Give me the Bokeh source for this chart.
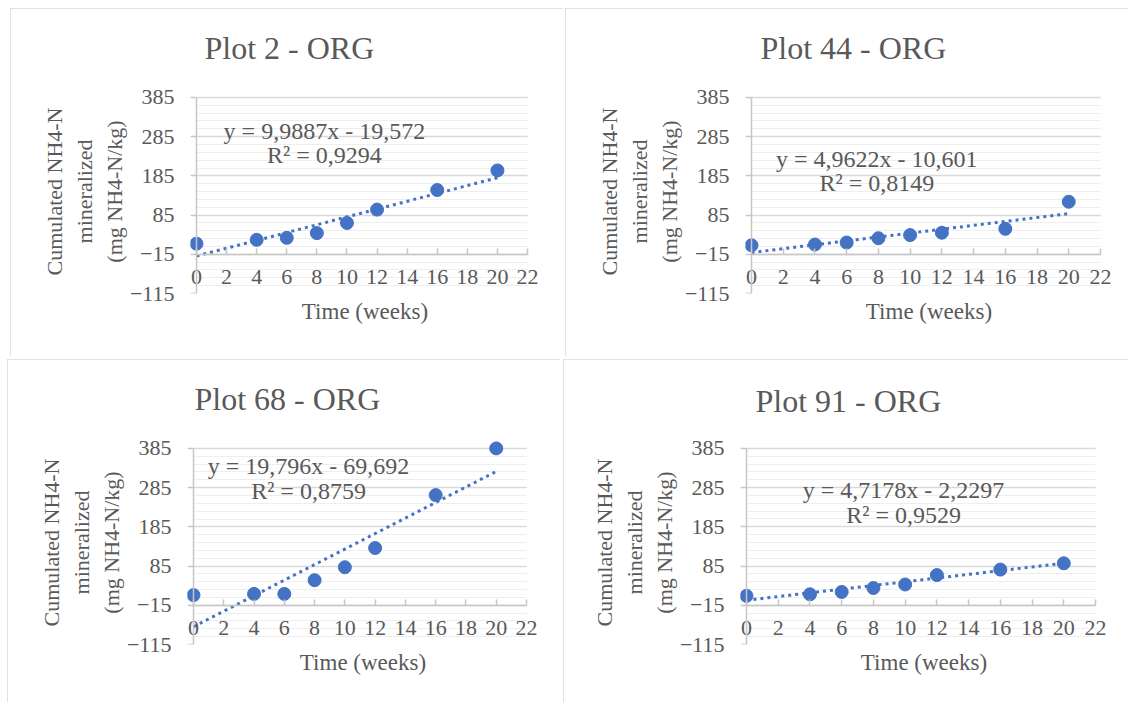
from bokeh.plotting import figure
from bokeh.models import FixedTicker, Label, Range1d, LinearAxis
from bokeh.layouts import column, row
from bokeh.embed import file_html
from bokeh.resources import INLINE

# ---- data ----
weeks = [0, 4, 6, 8, 10, 12, 16, 20]
plot2 = [12, 22, 27, 39, 65, 99, 149, 199]
plot44 = [8, 10, 15, 26, 34, 40, 50, 119]
plot68 = [11, 14, 14, 49, 82, 131, 266, 385]
plot91 = [9, 13, 19, 29, 38, 62, 76, 92]
series = [plot2, plot44, plot68, plot91]
titles = ["Plot 2 - ORG", "Plot 44 - ORG", "Plot 68 - ORG", "Plot 91 - ORG"]
slopes = [9.9887, 4.9622, 19.796, 4.7178]
intercepts = [-19.572, -10.601, -69.692, -2.2297]
eq_texts = ["y = 9,9887x - 19,572", "y = 4,9622x - 10,601",
            "y = 19,796x - 69,692", "y = 4,7178x - 2,2297"]
r2_texts = ["R\u00b2 = 0,9294", "R\u00b2 = 0,8149", "R\u00b2 = 0,8759", "R\u00b2 = 0,9529"]
trend_x = [0, 20]
y_ticks = [-115, -15, 85, 185, 285, 385]
y_minor = [-115 + 20 * i for i in range(26)]
x_ticks = [0, 2, 4, 6, 8, 10, 12, 14, 16, 18, 20, 22]
x_cross = -15
x_label = "Time (weeks)"
y_label = "Cumulated NH4-N\nmineralized\n(mg NH4-N/kg)"

# ---- style / layout ----
FONT = "Liberation Serif"
TXT = "#595959"
BLUE = "#4472C4"
AX = "#c6c6c6"
PAD_L, PAD_R, PAD_T = 6, 12, 8
# (width, height, margin, axis_x px, plot_w px, top px, plot_h px,
#  title_offset, eq_x, eq_y, r2_y)
layouts = [
    (553, 348, (8, 2, 0, 10), 185.7, 331.5, 88.7, 196.6, 14, 8.5, 300, 237),
    (563, 348, (8, 0, 0, 0), 185.6, 348.8, 88.7, 196.6, 15, 7.9, 228, 166),
    (553, 343, (3, 3, 0, 7), 185.8, 333.2, 88.7, 198.3, 7, 7.6, 341, 276),
    (565, 343, (3, 0, 0, 0), 183.3, 349.2, 86.0, 199.3, 15, 9.9, 278, 214),
]


def make_panel(i):
    W, H, mg, ax_x, pw, top, ph, toff, ex, ey, ry = layouts[i]
    x0, x1 = x_ticks[0], x_ticks[-1]
    y0, y1 = y_ticks[0], y_ticks[-1]
    sx = pw / (x1 - x0)
    sy = ph / (y1 - y0)
    bl = int(round(ax_x - PAD_L))
    fw = pw + PAD_L + PAD_R
    br = int(round(W - bl - fw))
    bt = int(round(top - PAD_T))
    bb = int(round(H - top - ph))
    p = figure(width=W, height=H, output_backend="svg", toolbar_location=None,
               x_range=Range1d(x0 - PAD_L / sx, x1 + PAD_R / sx),
               y_range=Range1d(y0, y1 + PAD_T / sy),
               min_border_left=bl, min_border_right=br,
               min_border_top=bt, min_border_bottom=bb)
    p.margin = mg
    p.styles = {"outline": "2px solid #d9d9d9", "outline-offset": "-2px"}
    p.outline_line_color = None
    p.background_fill_color = "white"
    p.border_fill_color = "white"

    # title
    p.title.text = titles[i]
    p.title.align = "left"
    p.title.offset = toff
    p.title.vertical_align = "top"
    p.title.standoff = bt - 2 - 36
    p.title.text_font = FONT
    p.title.text_font_size = "32px"
    p.title.text_font_style = "normal"
    p.title.text_color = TXT

    # left axis: tick labels + axis title
    ya = p.yaxis[0]
    ya.ticker = FixedTicker(ticks=y_ticks)
    ya.axis_line_color = None
    ya.major_tick_out = 0
    ya.major_tick_in = 0
    ya.minor_tick_out = 0
    ya.minor_tick_in = 0
    ya.major_label_text_font = FONT
    ya.major_label_text_font_size = "22px"
    ya.major_label_text_color = TXT
    ya.major_label_standoff = 16
    ya.axis_label = y_label
    ya.axis_label_text_font = FONT
    ya.axis_label_text_font_size = "22px"
    ya.axis_label_text_font_style = "normal"
    ya.axis_label_text_color = TXT
    ya.axis_label_standoff = 0

    # vertical axis line at x = 0 with outward ticks
    yl = LinearAxis(fixed_location=x0, bounds=(y0, y1),
                    ticker=FixedTicker(ticks=y_ticks),
                    axis_line_color=AX, axis_line_width=1.5,
                    major_tick_line_color=AX, major_tick_line_width=1.5,
                    major_tick_in=0, major_tick_out=6,
                    minor_tick_in=0, minor_tick_out=0,
                    major_label_text_font_size="0px",
                    major_label_overrides={t: "" for t in y_ticks})
    p.add_layout(yl, "left")

    # bottom axis: only carries the axis title
    xb = p.xaxis[0]
    xb.ticker = FixedTicker(ticks=[])
    xb.axis_line_color = None
    xb.major_tick_in = 0
    xb.major_tick_out = 0
    xb.minor_tick_in = 0
    xb.minor_tick_out = 0
    xb.axis_label = x_label
    xb.axis_label_text_font = FONT
    xb.axis_label_text_font_size = "23px"
    xb.axis_label_text_font_style = "normal"
    xb.axis_label_text_color = TXT
    xb.axis_label_standoff = 5

    # horizontal axis crossing at -15
    xa = LinearAxis(fixed_location=x_cross, bounds=(x0, x1),
                    ticker=FixedTicker(ticks=x_ticks),
                    axis_line_color=AX, axis_line_width=1.5,
                    major_tick_line_color=AX, major_tick_line_width=1.5,
                    major_tick_in=6, major_tick_out=0,
                    minor_tick_in=0, minor_tick_out=0,
                    major_label_text_font=FONT,
                    major_label_text_font_size="22px",
                    major_label_text_color=TXT,
                    major_label_standoff=16)
    p.add_layout(xa, "below")

    # grid
    p.xgrid.visible = False
    g = p.ygrid[0]
    g.ticker = FixedTicker(ticks=y_ticks, minor_ticks=y_minor)
    g.grid_line_color = "#d9d9d9"
    g.grid_line_width = 1.5
    g.minor_grid_line_color = "#eeeeee"
    g.minor_grid_line_width = 1
    if "cross_bounds" in g.properties():
        g.cross_bounds = (x0, x1)

    # trend line
    ty = [slopes[i] * x + intercepts[i] for x in trend_x]
    p.line(trend_x, ty, line_color=BLUE, line_width=3, line_dash="3 4")
    # points
    p.scatter(weeks, series[i], size=13, fill_color=BLUE, line_color=BLUE)

    for txt, yy in ((eq_texts[i], ey), (r2_texts[i], ry)):
        p.add_layout(Label(x=ex, y=yy, text=txt, text_align="center",
                           text_baseline="middle", text_font=FONT,
                           text_font_size="24px", text_color=TXT))
    return p


panels = [make_panel(i) for i in range(4)]
layout = column(row(panels[0], panels[1]), row(panels[2], panels[3]))
open("out.html", "w").write(file_html(layout, INLINE))
